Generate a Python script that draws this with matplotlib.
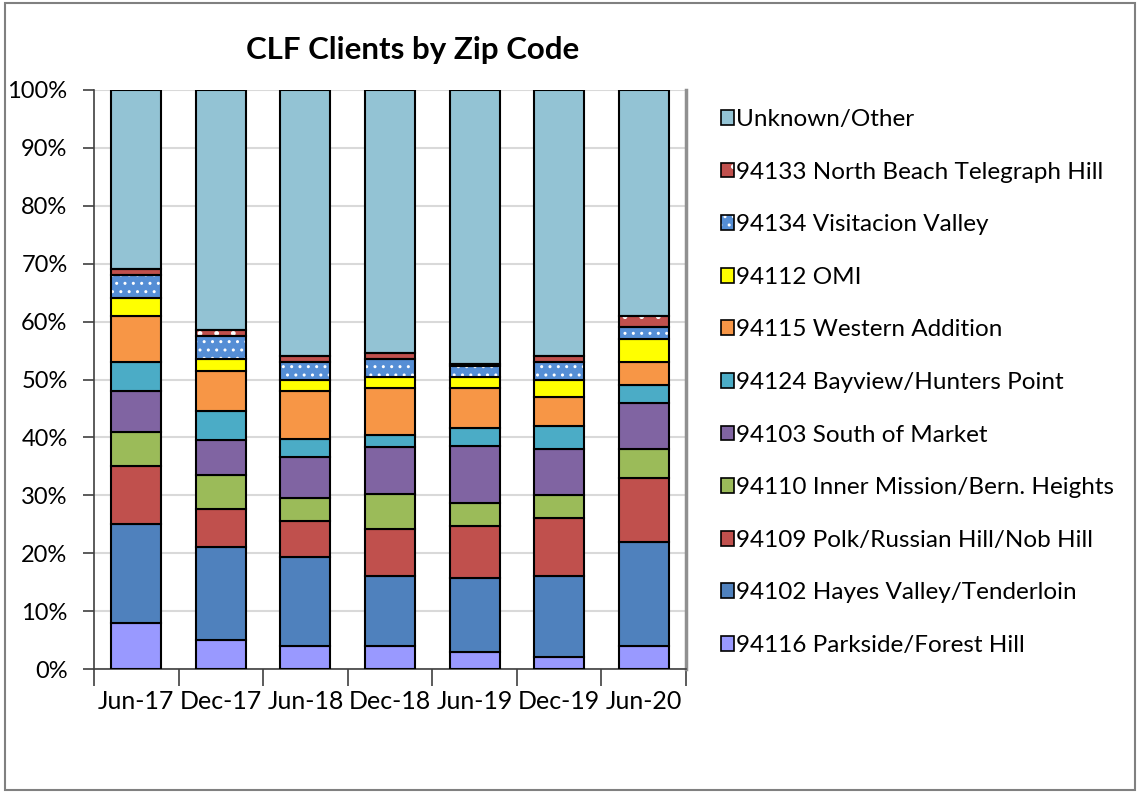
import matplotlib
matplotlib.use("Agg")
import matplotlib.pyplot as plt
from matplotlib.patches import Rectangle, Patch
from matplotlib.ticker import PercentFormatter, FixedLocator
import numpy as np

plt.rcParams['font.family'] = ['Lato', 'DejaVu Sans']
plt.rcParams['hatch.linewidth'] = 1.0

periods = ["Jun-17", "Dec-17", "Jun-18", "Dec-18", "Jun-19", "Dec-19", "Jun-20"]

# segments, bottom to top (percent)
parkside     = [8, 5, 4, 4, 3, 2, 4]
hayes        = [17, 16, 15.4, 12, 12.8, 14, 18]
polk         = [10, 6.7, 6.1, 8.2, 8.9, 10, 11]
inner_miss   = [6, 5.8, 4, 6, 4, 4, 5]
soma         = [7, 6, 7.2, 8.2, 9.9, 8, 8]
bayview      = [5, 5, 3, 2, 3, 4, 3]
western      = [8, 7, 8.3, 8.1, 6.9, 5, 4]
omi          = [3, 2, 2, 2, 2, 3, 4]
visitacion   = [4, 4, 3, 3, 1.9, 3, 2]
north_beach  = [1, 1, 1, 1, 0.2, 1, 2]
unknown      = [31, 41.5, 46, 45.5, 47.4, 46, 39]

series = [
    ("94116 Parkside/Forest Hill", parkside, "#9999FF", None),
    ("94102 Hayes Valley/Tenderloin", hayes, "#4F81BD", None),
    ("94109 Polk/Russian Hill/Nob Hill", polk, "#C0504D", None),
    ("94110 Inner Mission/Bern. Heights", inner_miss, "#9BBB59", None),
    ("94103 South of Market", soma, "#8064A2", None),
    ("94124 Bayview/Hunters Point", bayview, "#4BACC6", None),
    ("94115 Western Addition", western, "#F79646", None),
    ("94112 OMI", omi, "#FFFF00", None),
    ("94134 Visitacion Valley", visitacion, "#558ED5", ".."),
    ("94133 North Beach Telegraph Hill", north_beach, "#C0504D", "."),
    ("Unknown/Other", unknown, "#93C3D4", None),
]

fig = plt.figure(figsize=(11.4, 7.92), dpi=100)
ax = fig.add_axes([94/1140, 1-669/792, (686-94)/1140, (669-90)/792])

x = np.arange(len(periods))
width = 0.59
bottom = np.zeros(len(periods))
handles = []
for label, vals, color, hatch in series:
    vals = np.array(vals, dtype=float)
    if hatch:
        ax.bar(x, vals, width, bottom=bottom, color=color, edgecolor="white",
               hatch=hatch, linewidth=0, zorder=3)
        ax.bar(x, vals, width, bottom=bottom, fill=False, edgecolor="black",
               linewidth=1.5, zorder=4)
        handles.append((Patch(facecolor=color, edgecolor="white", hatch=hatch, linewidth=0),
                        Patch(fill=False, edgecolor="black", linewidth=1.2)))
    else:
        ax.bar(x, vals, width, bottom=bottom, color=color, edgecolor="black",
               linewidth=1.5, zorder=3)
        handles.append(Patch(facecolor=color, edgecolor="black", linewidth=1.2))
    bottom += vals

ax.set_xlim(-0.5, len(periods) - 0.5)
ax.set_ylim(0, 100)
ax.yaxis.set_major_locator(FixedLocator(np.arange(0, 101, 10)))
ax.yaxis.set_major_formatter(PercentFormatter(decimals=0))
ax.set_xticks(x)
ax.set_xticklabels(periods)
ax.set_xticks(np.arange(-0.5, len(periods), 1.0), minor=True)
ax.tick_params(axis='x', which='major', length=0, pad=15, labelsize=18)
ax.tick_params(axis='x', which='minor', length=12, width=1.2, direction='out', color='#404040')
ax.tick_params(axis='y', which='major', length=8, width=1.2, direction='out', pad=11,
               labelsize=17, color='#404040')
ax.grid(axis='y', color='#D9D9D9', linewidth=1.5, zorder=0)
ax.set_axisbelow(True)
ax.spines['top'].set_visible(False)
ax.spines['right'].set_color('#909090')
ax.spines['right'].set_linewidth(2.5)
for s in ['left', 'bottom']:
    ax.spines[s].set_color('#404040')
    ax.spines[s].set_linewidth(1.2)

fig.text(413/1140, 1-50/792, "CLF Clients by Zip Code", ha='center', va='center',
         fontsize=22.5, fontweight='bold')

labels = [s[0] for s in series][::-1]
leg = fig.legend(handles[::-1], labels,
                 loc='upper left', bbox_to_anchor=(721/1140, 1-109/792),
                 frameon=False, fontsize=17.5, handlelength=0.55, handleheight=0.55,
                 handletextpad=0.08, labelspacing=1.30, borderpad=0, borderaxespad=0)

fig.add_artist(Rectangle((5/1140, 2/792), 1130/1140, 787/792, transform=fig.transFigure,
                         fill=False, edgecolor='#808080', linewidth=1.5))

fig.savefig("out.png", dpi=100)
